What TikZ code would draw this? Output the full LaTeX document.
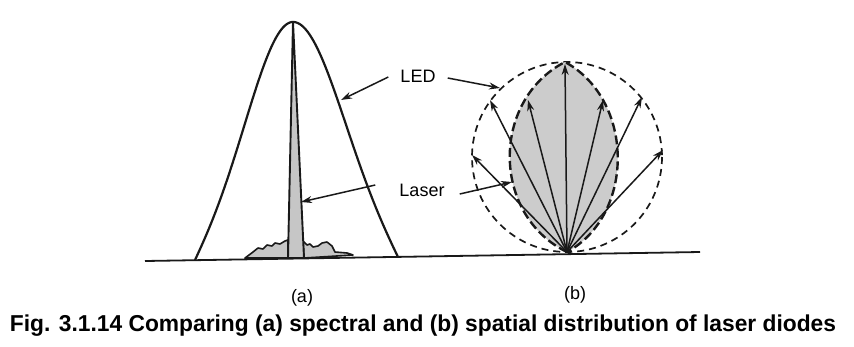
\documentclass[tikz,border=0pt]{standalone}
\usepackage{fontspec}
\setmainfont{Liberation Sans}
\usepackage{graphicx}
\usetikzlibrary{arrows.meta}
\tikzset{
  >={Stealth[length=11pt,width=7pt]},
  curve/.style={line width=2.2pt,black!90,line join=round},
  spike/.style={draw=black!90,line width=1.6pt,fill=gray!45,line join=round},
  lbl/.style={font=\fontsize{18}{20}\selectfont,inner sep=0pt},
  sublbl/.style={font=\fontsize{18}{20}\selectfont,inner sep=0pt},
  ptr/.style={->,line width=1.5pt,black!90},
  ray/.style={->,line width=1.5pt,black!90},
  envelope/.style={dash pattern=on 7pt off 5pt,line width=1.7pt,black!90},
  lobe/.style={draw=black!90,dash pattern=on 9pt off 4pt,line width=2.4pt,fill=gray!40},
}

\begin{document}
\begin{tikzpicture}[x=1pt,y=-1pt]
  \useasboundingbox (0,0) rectangle (854,346);

  % common base line
  \coordinate (bl) at (145,261);
  \coordinate (br) at (700,252);
  \draw[curve,line width=1.8pt] (bl) -- (br);

  % (a) spectral: LED curve, laser spike and side modes
  \draw[curve] plot[domain=-98:0,samples=60]
      ({293+\x},{260-238*(exp(-((\x)^2)/4232)-0.1034*((\x)^2/9604)^2)})
    -- plot[domain=0:105,samples=60]
      ({293+\x},{257-235*(exp(-((\x)^2)/5000)-0.1103*((\x)^2/11025)^2)});
  \filldraw[spike] (245,258) -- (253,252) -- (258,248) -- (263,249) -- (267,245)
    -- (272,246) -- (275,243) -- (280,244) -- (285,241) -- (288,240) -- (288,258) -- cycle;
  \filldraw[spike] (304,258) -- (303,241) -- (307,245) -- (310,244) -- (313,247)
    -- (318,246) -- (322,243) -- (327,242) -- (332,246) -- (335,252) -- (347,253)
    -- (353,255) -- cycle;
  \filldraw[spike,line width=1.9pt] (293,22) -- (288,258) -- (304,258) -- cycle;
  \coordinate (ledA) at (341,100);
  \coordinate (spk) at (301,202);

  % (b) spatial: envelope circle, laser lobe and rays
  \coordinate (O) at (567,252);
  \draw[envelope] (567,157) circle[radius=95];
  \filldraw[lobe] (O) .. controls (491,215) and (491,100) .. (565,62)
    .. controls (635,100) and (635,215) .. (O);
  \foreach \tx/\ty [count=\i] in {565/64,528/100,603/100,490/100,642/97,472/155,663/150}{
    \coordinate (ray\i) at (\tx,\ty);
    \draw[ray] (O) -- (ray\i);
  }
  \coordinate (ledB) at (500,88);
  \coordinate (lobeL) at (512,182);

  % labels
  \node[lbl] (led) at (418,76) {LED};
  \node[lbl] (laser) at (422,190) {Laser};
  \draw[ptr] ([xshift=-12pt,yshift=-1pt]led.west) -- (ledA);
  \draw[ptr] ([xshift=12pt,yshift=-2pt]led.east) -- (ledB);
  \draw[ptr] ([xshift=-24pt,yshift=5pt]laser.west) -- (spk);
  \draw[ptr] ([xshift=15pt,yshift=-4pt]laser.east) -- (lobeL);

  \node[sublbl] (capa) at (302,298) {(a)};
  \node[sublbl] (capb) at (575,295) {(b)};
  \node[inner sep=0pt] (cap) at (423,326)
    {\resizebox{826pt}{\height}{\bfseries\fontsize{23}{27}\selectfont
      Fig. 3.1.14 Comparing (a) spectral and (b) spatial distribution of laser diodes}};
\end{tikzpicture}
\end{document}
